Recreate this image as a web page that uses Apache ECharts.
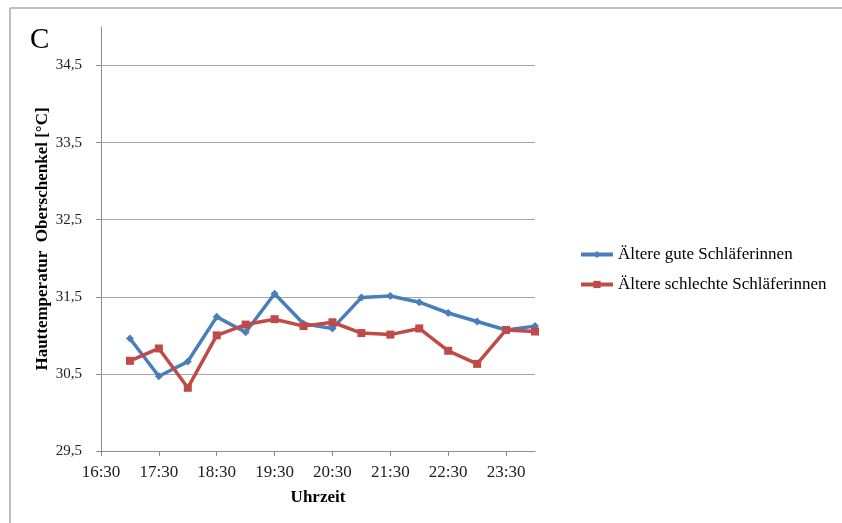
<!DOCTYPE html>
<html><head><meta charset="utf-8">
<script src="https://cdn.jsdelivr.net/npm/echarts@6/dist/echarts.min.js"></script>
<style>html,body{margin:0;padding:0;background:#fff}#c{width:842px;height:523px}</style>
</head><body><div id="c"></div>
<script>
var times = ["17:00","17:30","18:00","18:30","19:00","19:30","20:00","20:30","21:00","21:30","22:00","22:30","23:00","23:30","24:00"];
var gute = [30.96,30.47,30.66,31.24,31.04,31.54,31.15,31.09,31.49,31.51,31.43,31.29,31.18,31.07,31.12];
var schlechte = [30.67,30.83,30.32,31.00,31.14,31.21,31.12,31.17,31.03,31.01,31.09,30.80,30.63,31.07,31.05];
var xTickLabels = ["16:30","17:30","18:30","19:30","20:30","21:30","22:30","23:30"];
var yTicks = [29.5,30.5,31.5,32.5,33.5,34.5];
var seriesNames = ["Ältere gute Schläferinnen","Ältere schlechte Schläferinnen"];

function toMin(t){var p=t.split(":");return (+p[0])*60+(+p[1]) - (16*60+30);}
function fromMin(m){var t=m+16*60+30;var h=Math.floor(t/60),mm=t%60;return h+":"+(mm<10?"0":"")+mm;}
var xTickVals = xTickLabels.map(toMin);
var font = "Liberation Serif";
var chart = echarts.init(document.getElementById('c'));
chart.setOption({
  backgroundColor:'#fff',
  animation:false,
  title:{text:'C',left:25,top:21,textStyle:{fontFamily:font,fontSize:29,fontWeight:'normal',color:'#000'}},
  graphic:[
    {type:'line',shape:{x1:10,y1:8,x2:842,y2:8},style:{stroke:'#a8a8a8',lineWidth:1.5}},
    {type:'line',shape:{x1:10,y1:8,x2:10,y2:523},style:{stroke:'#a8a8a8',lineWidth:1.5}}
  ],
  legend:{orient:'vertical',left:574,top:241,itemGap:13,itemWidth:32,itemHeight:9,
    lineStyle:{width:4},
    textStyle:{fontFamily:font,fontSize:17,color:'#000'},
    data:seriesNames},
  grid:{left:101,top:27,right:307,bottom:72,containLabel:false},
  xAxis:{type:'value',min:0,max:450,
    name:'Uhrzeit',nameLocation:'middle',nameGap:38,nameMoveOverlap:false,
    nameTextStyle:{fontFamily:font,fontSize:17,fontWeight:'bold',color:'#000'},
    axisLine:{lineStyle:{color:'#8c8c8c',width:1}},
    axisTick:{show:true,customValues:xTickVals,length:5,lineStyle:{color:'#8c8c8c'}},
    axisLabel:{customValues:xTickVals,formatter:function(v){return fromMin(v);},margin:13,
      fontFamily:font,fontSize:17,color:'#222'},
    splitLine:{show:false}},
  yAxis:{type:'value',min:29.5,max:35,
    name:'Hauttemperatur  Oberschenkel [°C]',nameLocation:'middle',nameGap:50,nameRotate:90,nameMoveOverlap:false,
    nameTextStyle:{fontFamily:font,fontSize:17,fontWeight:'bold',color:'#000'},
    axisLine:{show:true,lineStyle:{color:'#8c8c8c',width:1}},
    axisTick:{show:true,customValues:yTicks,length:5,lineStyle:{color:'#8c8c8c'}},
    axisLabel:{customValues:yTicks,formatter:function(v){return String(v).replace('.',',');},margin:19,
      fontFamily:font,fontSize:15,color:'#222'},
    splitLine:{show:true,lineStyle:{color:'#a6a6a6',width:1}}},
  series:[
    {name:seriesNames[0],type:'line',data:times.map(function(t,i){return [toMin(t),gute[i]];}),
     symbol:'diamond',symbolSize:8,lineStyle:{color:'#4a7ebb',width:3.5},itemStyle:{color:'#4a7ebb'}},
    {name:seriesNames[1],type:'line',data:times.map(function(t,i){return [toMin(t),schlechte[i]];}),
     symbol:'rect',symbolSize:8,lineStyle:{color:'#be4b48',width:3.5},itemStyle:{color:'#be4b48'}}
  ]
});
</script></body></html>
